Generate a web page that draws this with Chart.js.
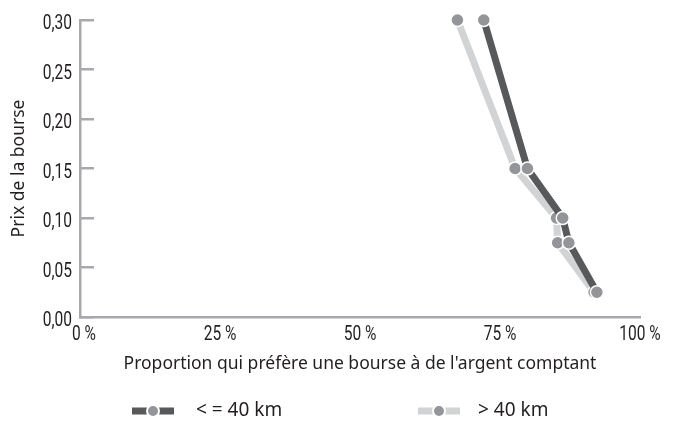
<!DOCTYPE html>
<html lang="fr">
<head>
<meta charset="utf-8">
<script src="https://cdn.jsdelivr.net/npm/chart.js@4.4.0/dist/chart.umd.min.js"></script>
<style>
  html, body { margin: 0; padding: 0; background: #fff; }
  #cadre { width: 683px; height: 424px; position: relative; }
</style>
</head>
<body>
<div id="cadre"><canvas id="graphique"></canvas></div>
<script>
// DONNEES
const prixBourse = [0.025, 0.075, 0.10, 0.15, 0.30];
const proportionProche = [92.3, 87.3, 86.2, 79.9, 72.1]; // <= 40 km
const proportionLoin = [91.8, 85.3, 85.1, 77.7, 67.4];   // > 40 km
const nomsSeries = ['< = 40 km', '> 40 km'];
const graduationsX = [0, 25, 50, 75, 100];
const graduationsY = [0, 0.05, 0.10, 0.15, 0.20, 0.25, 0.30];

// STYLES
const gris = '#a7a9ac';
const texte = '#231f20';
const policeTicks = 'Roboto, "Noto Sans", sans-serif';
const policeTitres = '"Noto Sans", sans-serif';

const formatX = v => v + ' %';
const formatY = v => v.toFixed(2).replace('.', ',');

function points(xs) {
    return xs.map((x, i) => ({ x: x, y: prixBourse[i] }));
}

// ----------------------------
// ETIQUETTES ETROITES (police condensee simulee)
const etiquettesEtroites = {
    id: 'etiquettesEtroites',
    afterDraw(chart) {
        const ctx = chart.ctx;
        const sx = chart.scales.x, sy = chart.scales.y;
        ctx.save();
        ctx.font = '21px ' + policeTicks;
        ctx.fillStyle = texte;
        ctx.textBaseline = 'alphabetic';

        ctx.textAlign = 'right';
        sy.ticks.forEach(t => {
            const py = sy.getPixelForValue(t.value);
            ctx.save();
            ctx.translate(sy.right - 8, py + 9);
            ctx.scale(0.74, 1);
            ctx.fillText(formatY(t.value), 0, 0);
            ctx.restore();
        });

        ctx.textAlign = 'center';
        sx.ticks.forEach(t => {
            const px = sx.getPixelForValue(t.value);
            ctx.save();
            ctx.translate(px + (t.value === 0 ? 4 : 0), sx.top + 23);
            ctx.scale(0.74, 1);
            ctx.fillText(formatX(t.value), 0, 0);
            ctx.restore();
        });
        ctx.restore();
    }
};

// ----------------------------
// LEGENDE (ligne + point)
const legendeLignes = {
    id: 'legendeLignes',
    afterDraw(chart) {
        const ctx = chart.ctx;
        const y = 411;
        const largeurSymbole = 42, colonne = 286;
        const ecarts = [22, 18];
        ctx.save();
        ctx.font = '19px ' + policeTitres;
        let x = chart.chartArea.left + 52;
        chart.data.datasets.forEach((ds, i) => {
            ctx.strokeStyle = ds.borderColor;
            ctx.lineWidth = 7;
            ctx.beginPath();
            ctx.moveTo(x, y);
            ctx.lineTo(x + largeurSymbole, y);
            ctx.stroke();

            ctx.beginPath();
            ctx.arc(x + largeurSymbole / 2, y, 6, 0, Math.PI * 2);
            ctx.fillStyle = ds.pointBackgroundColor;
            ctx.fill();
            ctx.lineWidth = 2;
            ctx.strokeStyle = '#fff';
            ctx.stroke();

            ctx.fillStyle = texte;
            ctx.textBaseline = 'middle';
            ctx.textAlign = 'left';
            ctx.fillText(ds.label, x + largeurSymbole + ecarts[i], y);
            x += colonne;
        });
        ctx.restore();
    }
};

// ----------------------------
// CHART JS
const ctx = document.getElementById('graphique').getContext('2d');
new Chart(ctx, {
    type: 'line',
    data: {
        datasets: [
            {
                label: nomsSeries[0],
                data: points(proportionProche),
                borderColor: '#58595b',
                borderWidth: 7,
                pointBackgroundColor: '#939598',
                pointBorderColor: '#fff',
                pointBorderWidth: 1.5,
                pointRadius: 6.5,
                clip: false
            },
            {
                label: nomsSeries[1],
                data: points(proportionLoin),
                borderColor: '#d1d3d4',
                borderWidth: 7,
                pointBackgroundColor: '#939598',
                pointBorderColor: '#fff',
                pointBorderWidth: 1.5,
                pointRadius: 6.5,
                clip: false
            }
        ]
    },
    options: {
        responsive: true,
        maintainAspectRatio: false,
        animation: false,
        layout: { padding: { left: 0, right: 43, top: 20, bottom: 47 } },
        plugins: {
            legend: { display: false },
            tooltip: { enabled: false }
        },
        scales: {
            x: {
                type: 'linear',
                min: 0, max: 100,
                afterBuildTicks: s => { s.ticks = graduationsX.map(v => ({ value: v })); },
                afterFit: s => { s.height = 60; s.paddingLeft = 0; s.paddingRight = 0; },
                grid: { display: false },
                border: { display: true, color: gris, width: 2.5 },
                ticks: { display: false },
                title: {
                    display: true,
                    text: "Proportion qui préfère une bourse à de l'argent comptant",
                    color: texte,
                    font: { family: policeTitres, size: 17.5 },
                    padding: { top: 0, bottom: 2 }
                }
            },
            y: {
                min: 0, max: 0.30,
                afterBuildTicks: s => { s.ticks = graduationsY.map(v => ({ value: v })); },
                afterFit: s => { s.width = 80; s.paddingTop = 0; s.paddingBottom = 0; },
                grid: { drawOnChartArea: false, drawTicks: true, tickLength: -14, color: gris, lineWidth: 2.5 },
                border: { display: true, color: gris, width: 2.5 },
                ticks: { display: false },
                title: {
                    display: true,
                    text: 'Prix de la bourse',
                    color: texte,
                    font: { family: policeTitres, size: 17.5 },
                    padding: { top: 9, bottom: 0 }
                }
            }
        }
    },
    plugins: [etiquettesEtroites, legendeLignes]
});
</script>
</body>
</html>
